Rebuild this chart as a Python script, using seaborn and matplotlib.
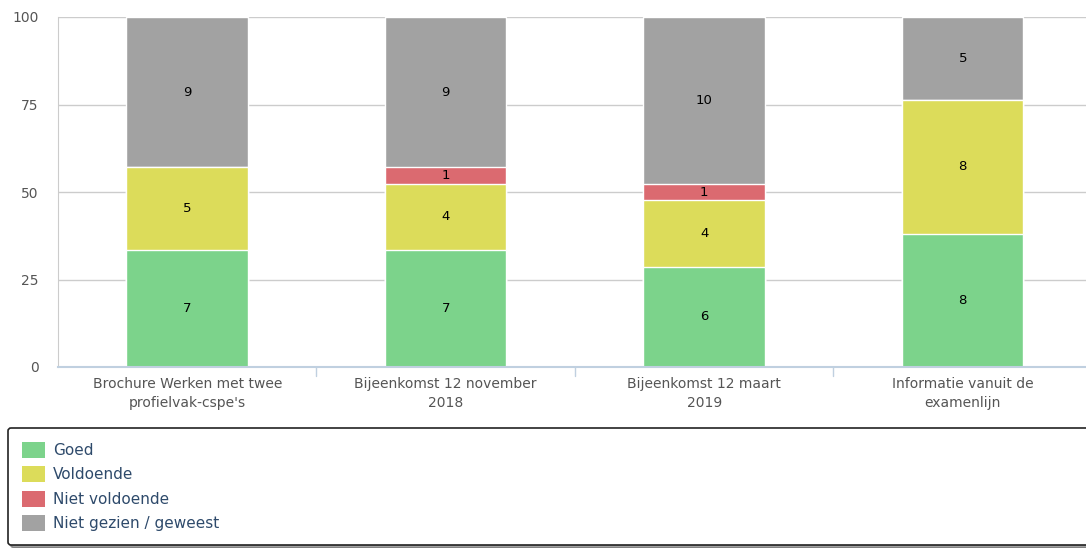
import numpy as np
import pandas as pd
import seaborn as sns
import matplotlib.pyplot as plt
from matplotlib.patches import Patch

# data
categories = ["Brochure Werken met twee\nprofielvak-cspe's",
              "Bijeenkomst 12 november\n2018",
              "Bijeenkomst 12 maart\n2019",
              "Informatie vanuit de\nexamenlijn"]
goed = [7, 7, 6, 8]
voldoende = [5, 4, 4, 8]
niet_voldoende = [0, 1, 1, 0]
niet_gezien = [9, 9, 10, 5]

series = ["Goed", "Voldoende", "Niet voldoende", "Niet gezien / geweest"]
colors = ["#7cd38b", "#dcdc5a", "#db6a70", "#a2a2a2"]

counts = np.array([goed, voldoende, niet_voldoende, niet_gezien], dtype=float)
pct = counts / counts.sum(axis=0) * 100
cum = np.cumsum(pct, axis=0)

sns.set_style("white")
plt.rcParams['font.family'] = ['DejaVu Sans']

fig = plt.figure(figsize=(10.86, 5.48), dpi=100)
ax = fig.add_axes([58 / 1086, 1 - 367 / 548, 1028 / 1086, 350 / 548])

for y in [0, 25, 50, 75, 100]:
    ax.axhline(y, color="#cccccc", lw=1, zorder=0)

# draw from top of stack down so each segment shows
for i in range(3, -1, -1):
    df = pd.DataFrame({"cat": categories, "val": cum[i]})
    sns.barplot(data=df, x="cat", y="val", color=colors[i], width=0.47,
                edgecolor="white", linewidth=1, saturation=1, ax=ax, zorder=2)

for i in range(4):
    for j in range(4):
        if counts[i, j] > 0:
            mid = cum[i, j] - pct[i, j] / 2
            ax.text(j, mid, f"{int(counts[i, j])}", ha="center", va="center",
                    fontsize=9.5, color="black", zorder=5)

ax.set_xlim(-0.5, 3.477)
ax.set_ylim(0, 100)
ax.set_yticks([0, 25, 50, 75, 100])
ax.set_xlabel("")
ax.set_ylabel("")
for s in ["top", "right"]:
    ax.spines[s].set_visible(False)
ax.spines["left"].set_color("#cccccc")
ax.spines["bottom"].set_color("#c0d0e0")
ax.spines["bottom"].set_linewidth(1.5)
ax.tick_params(axis="y", length=0, labelsize=10, colors="#555555", pad=14)
ax.tick_params(axis="x", length=0, labelsize=10, colors="#555555", pad=7)
for lbl in ax.get_xticklabels():
    lbl.set_linespacing(1.45)
for xb in [0.5, 1.5, 2.5]:
    ax.plot([xb, xb], [0, -2.5], color="#c0d0e0", lw=1, clip_on=False)

handles = [Patch(facecolor=c, edgecolor="none", label=s) for c, s in zip(colors, series)]
leg = fig.legend(handles=handles, loc="lower left",
                 bbox_to_anchor=(8 / 1086, 3 / 548, 1.2, 118 / 548),
                 mode="expand", frameon=True, fancybox=True, shadow=True,
                 fontsize=11, labelspacing=0.55, handlelength=1.55,
                 handleheight=1.2, handletextpad=0.5, borderaxespad=0,
                 borderpad=0.9)
leg.get_frame().set_edgecolor("#222222")
leg.get_frame().set_linewidth(1.2)
for t in leg.get_texts():
    t.set_color("#2e4a6b")

fig.savefig("out.png", dpi=100)
